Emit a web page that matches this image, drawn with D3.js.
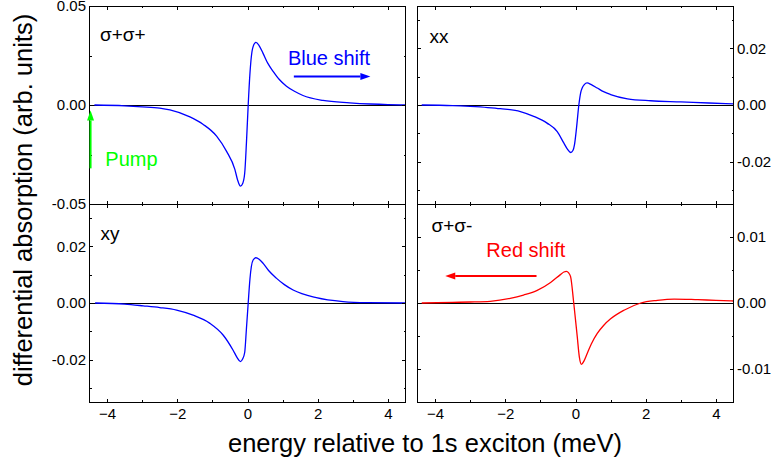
<!DOCTYPE html>
<html>
<head>
<meta charset="utf-8">
<script src="https://cdn.jsdelivr.net/npm/d3@7"></script>
<style>
  body { margin: 0; background: #fff; }
  text { font-family: "Liberation Sans", Arial, Helvetica, sans-serif; }
</style>
</head>
<body>
<svg id="chart" width="771" height="465"></svg>
<script>
// x axis (meV)
const energyDomain = [-4.5, 4.5];
const energyMajor = [-4, -2, 0, 2, 4];
const energyMinor = [-3, -1, 1, 3];

// sigma+ sigma+
const ppEnergy = [-4.36, -3.5, -3.0, -2.5, -2.21, -1.64, -1.26, -0.88, -0.6, -0.36, -0.28, -0.2, -0.14, -0.08, -0.03, 0.02, 0.07, 0.11, 0.16, 0.24, 0.33, 0.44, 0.58, 0.73, 0.9, 1.11, 1.35, 1.58, 2.15, 2.91, 3.5, 4.0, 4.5];
const ppSignal = [0, -0.0004, -0.0009, -0.0016, -0.0025, -0.006, -0.0098, -0.0157, -0.0233, -0.0325, -0.038, -0.041, -0.0398, -0.0345, -0.019, 0, 0.016, 0.0245, 0.0295, 0.0316, 0.030, 0.0262, 0.021, 0.017, 0.013, 0.0095, 0.0068, 0.0048, 0.0023, 0.0011, 0.0005, 0.0002, 0.0001];

// xx
const xxEnergy = [-4.38, -3.5, -3.0, -2.5, -2.14, -1.57, -1.19, -0.81, -0.52, -0.33, -0.22, -0.14, -0.07, -0.03, 0.03, 0.095, 0.15, 0.19, 0.25, 0.33, 0.45, 0.62, 0.8, 1.0, 1.48, 2.14, 3.0, 3.8, 4.5];
const xxSignal = [0, -0.0002, -0.0005, -0.0009, -0.0013, -0.0023, -0.004, -0.0064, -0.0094, -0.0135, -0.0158, -0.0168, -0.016, -0.0141, -0.008, 0, 0.0045, 0.006, 0.0072, 0.0078, 0.0072, 0.006, 0.0047, 0.0037, 0.0022, 0.0015, 0.0011, 0.0007, 0.0004];

// xy
const xyEnergy = [-4.34, -3.5, -2.97, -2.5, -2.02, -1.55, -1.07, -0.69, -0.41, -0.3, -0.2, -0.14, -0.08, -0.03, 0.02, 0.07, 0.11, 0.16, 0.24, 0.33, 0.44, 0.6, 0.82, 1.05, 1.3, 1.96, 2.72, 3.4, 4.5];
const xySignal = [0, -0.0004, -0.001, -0.0016, -0.0025, -0.0043, -0.0072, -0.0114, -0.0167, -0.0192, -0.0207, -0.0198, -0.0175, -0.009, 0, 0.0085, 0.0129, 0.0152, 0.016, 0.0155, 0.0141, 0.0115, 0.0088, 0.0065, 0.0046, 0.0019, 0.0005, 0.0001, 0];

// sigma+ sigma-
const pmEnergy = [-4.38, -3.5, -3.0, -2.43, -1.86, -1.48, -1.09, -0.71, -0.43, -0.33, -0.26, -0.2, -0.14, -0.05, 0.05, 0.11, 0.17, 0.24, 0.33, 0.45, 0.62, 0.8, 1.0, 1.38, 1.86, 2.33, 2.81, 3.48, 4.0, 4.5];
const pmSignal = [0, 0.0001, 0.00015, 0.00026, 0.0007, 0.0012, 0.0019, 0.0031, 0.0043, 0.0047, 0.0048, 0.0046, 0.004, 0, -0.0051, -0.0082, -0.0093, -0.0088, -0.0077, -0.0062, -0.0046, -0.0034, -0.0024, -0.0011, 0, 0.0004, 0.0006, 0.0005, 0.0004, 0.0003];

// y ticks
const ppMajor = [-0.05, 0, 0.05];
const ppMinor = [-0.025, 0.025];
const mid02Major = [-0.02, 0, 0.02];
const mid02Minor = [-0.03, -0.01, 0.01, 0.03];
const pmMajor = [-0.01, 0, 0.01];
const pmMinor = [-0.015, -0.005, 0.005, 0.015];

const svg = d3.select('#chart');
const W = 316, H = 198;
const fontFamily = '"Liberation Sans", Arial, Helvetica, sans-serif';

const panels = [
  { id: 'pp', x0: 89.5, y0: 6, yDomain: [-0.05, 0.05], major: ppMajor, minor: ppMinor,
    labelSide: 'left', xLabels: false, energy: ppEnergy, signal: ppSignal, color: '#0000ff',
    title: 'σ+σ+', tx: 10.5, ty: 34.5 },
  { id: 'xx', x0: 417.5, y0: 6, yDomain: [-0.035, 0.035], major: mid02Major, minor: mid02Minor,
    labelSide: 'right', xLabels: false, energy: xxEnergy, signal: xxSignal, color: '#0000ff',
    title: 'xx', tx: 12, ty: 37 },
  { id: 'xy', x0: 89.5, y0: 204, yDomain: [-0.035, 0.035], major: mid02Major, minor: mid02Minor,
    labelSide: 'left', xLabels: true, energy: xyEnergy, signal: xySignal, color: '#0000ff',
    title: 'xy', tx: 11, ty: 35.5 },
  { id: 'pm', x0: 417.5, y0: 204, yDomain: [-0.015, 0.015], major: pmMajor, minor: pmMinor,
    labelSide: 'right', xLabels: true, energy: pmEnergy, signal: pmSignal, color: '#ff0000',
    title: 'σ+σ-', tx: 14, ty: 28 }
];

function styleAxis(g) {
  g.select('.domain').remove();
  g.attr('font-size', 15).attr('font-family', fontFamily);
  g.selectAll('line').attr('stroke', '#000').attr('shape-rendering', 'crispEdges');
  g.selectAll('text').attr('fill', '#000');
}

function drawArrow(g, x1, y1, x2, y2, color) {
  const ang = Math.atan2(y2 - y1, x2 - x1);
  const len = 10, half = 3.5;
  const bx = x2 - len * Math.cos(ang), by = y2 - len * Math.sin(ang);
  g.append('line')
    .attr('x1', x1).attr('y1', y1).attr('x2', bx).attr('y2', by)
    .attr('stroke', color).attr('stroke-width', 2);
  const px = -Math.sin(ang) * half, py = Math.cos(ang) * half;
  g.append('path')
    .attr('d', `M${x2},${y2}L${bx + px},${by + py}L${bx - px},${by - py}Z`)
    .attr('fill', color);
}

const scales = {};

panels.forEach(p => {
  const x = d3.scaleLinear().domain(energyDomain).range([0, W]);
  const y = d3.scaleLinear().domain(p.yDomain).range([H, 0]);
  scales[p.id] = { x, y, x0: p.x0, y0: p.y0 };

  const g = svg.append('g').attr('transform', `translate(${p.x0},${p.y0})`);

  g.append('clipPath').attr('id', 'clip-' + p.id)
    .append('rect').attr('width', W).attr('height', H);

  // zero line
  g.append('line')
    .attr('x1', 0).attr('x2', W)
    .attr('y1', y(0) + 0.5).attr('y2', y(0) + 0.5)
    .attr('stroke', '#000').attr('stroke-width', 1)
    .attr('shape-rendering', 'crispEdges');

  const line = d3.line()
    .x((d, i) => x(p.energy[i]))
    .y(d => y(d))
    .curve(d3.curveMonotoneX);

  g.append('path')
    .datum(p.signal)
    .attr('clip-path', `url(#clip-${p.id})`)
    .attr('fill', 'none')
    .attr('stroke', p.color)
    .attr('stroke-width', 1.3)
    .attr('d', line);

  // ticks on all four sides, pointing inward
  const fmt = d => d.toFixed(2);
  const sides = [
    { axis: d3.axisLeft, t: 'translate(0,0)', scale: y, labels: p.labelSide === 'left', vals: p.major, minor: p.minor, pad: 3.5 },
    { axis: d3.axisRight, t: `translate(${W},0)`, scale: y, labels: p.labelSide === 'right', vals: p.major, minor: p.minor, pad: 3.5 },
    { axis: d3.axisTop, t: 'translate(0,0)', scale: x, labels: false, vals: energyMajor, minor: energyMinor, pad: 3 },
    { axis: d3.axisBottom, t: `translate(0,${H})`, scale: x, labels: p.xLabels, vals: energyMajor, minor: energyMinor, pad: 6 }
  ];
  sides.forEach(s => {
    g.append('g').attr('transform', s.t)
      .call(s.axis(s.scale).tickValues(s.vals).tickSize(-3.5).tickPadding(s.pad)
        .tickFormat(s.labels ? (s.scale === y ? fmt : d3.format('d')) : ''))
      .call(styleAxis);
    g.append('g').attr('transform', s.t)
      .call(s.axis(s.scale).tickValues(s.minor).tickSize(-2).tickFormat(''))
      .call(styleAxis);
  });

  // frame
  g.append('rect')
    .attr('width', W).attr('height', H)
    .attr('fill', 'none').attr('stroke', '#000').attr('stroke-width', 1)
    .attr('shape-rendering', 'crispEdges');

  g.append('text')
    .attr('x', p.tx).attr('y', p.ty)
    .attr('font-size', 19)
    .attr('fill', '#000')
    .text(p.title);
});

// annotations (placed in data units of their panel)
function px(id, e, v) {
  const s = scales[id];
  return [s.x0 + s.x(e), s.y0 + s.y(v)];
}

let a = px('pp', 1.15, 0.0204);
svg.append('text').attr('x', a[0]).attr('y', a[1])
  .attr('font-size', 20).attr('fill', '#0000ff').text('Blue shift');
let s1 = px('pp', 1.32, 0.0144), s2 = px('pp', 3.5, 0.0144);
drawArrow(svg, s1[0], s1[1], s2[0], s2[1], '#0000ff');

a = px('pp', -4.05, -0.0307);
svg.append('text').attr('x', a[0]).attr('y', a[1])
  .attr('font-size', 20).attr('fill', '#00ff00').text('Pump');
s1 = px('pp', -4.47, -0.032); s2 = px('pp', -4.47, -0.0028);
drawArrow(svg, s1[0], s1[1], s2[0], s2[1], '#00ff00');

a = px('pm', -2.54, 0.00695);
svg.append('text').attr('x', a[0]).attr('y', a[1])
  .attr('font-size', 20).attr('fill', '#ff0000').text('Red shift');
s1 = px('pm', -1.11, 0.0041); s2 = px('pm', -3.71, 0.0041);
drawArrow(svg, s1[0], s1[1], s2[0], s2[1], '#ff0000');

// axis titles
svg.append('text')
  .attr('transform', 'translate(31.5,200) rotate(-90)')
  .attr('text-anchor', 'middle')
  .attr('font-size', 25.5)
  .attr('fill', '#000')
  .text('differential absorption (arb. units)');

svg.append('text')
  .attr('x', 425).attr('y', 451.5)
  .attr('text-anchor', 'middle')
  .attr('font-size', 25.5)
  .attr('fill', '#000')
  .text('energy relative to 1s exciton (meV)');
</script>
</body>
</html>
